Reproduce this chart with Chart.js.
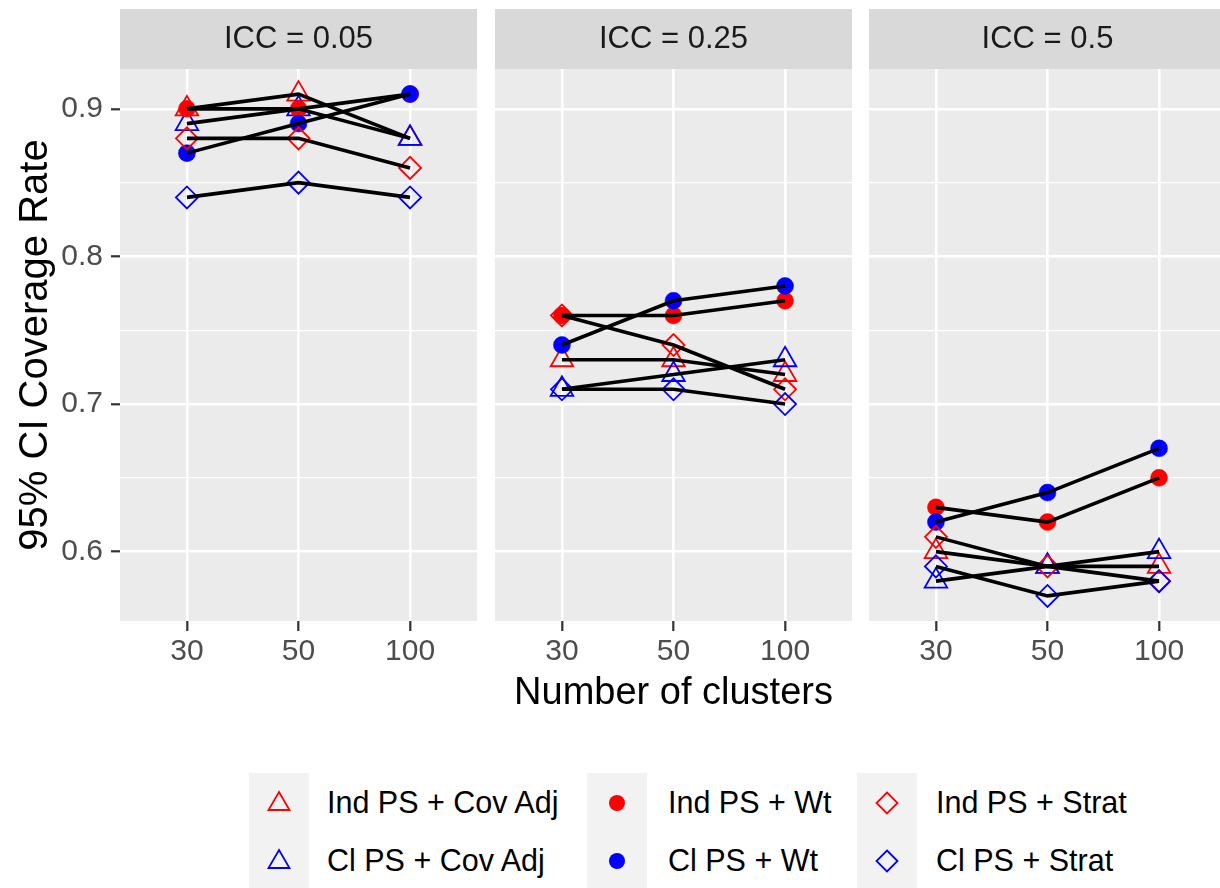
<!DOCTYPE html>
<html>
<head>
<meta charset="utf-8">
<script src="https://cdn.jsdelivr.net/npm/chart.js@4.4.1/dist/chart.umd.min.js"></script>
<style>
html,body{margin:0;padding:0;background:#ffffff;width:1220px;height:888px;overflow:hidden;font-family:"Liberation Sans",Arial,sans-serif;}
canvas{position:absolute;}
.key{position:absolute;width:60px;height:58px;background:#F2F2F2;}
.key svg{position:absolute;left:13px;top:13px;}
.lab{position:absolute;height:58px;line-height:58px;font-size:30.5px;color:#000;white-space:nowrap;}
</style>
</head>
<body>
<canvas id="c0" width="477" height="662" style="left:0px;top:9px"></canvas>
<canvas id="c1" width="357" height="712" style="left:495px;top:9px"></canvas>
<canvas id="c2" width="357" height="662" style="left:869px;top:9px"></canvas>
<div id="legend"></div>
<script>
// ---------- data ----------
const categories = ['30', '50', '100'];               // Number of clusters
const iccLabels = ['ICC = 0.05', 'ICC = 0.25', 'ICC = 0.5'];
const yTicks = [0.6, 0.65, 0.7, 0.75, 0.8, 0.85, 0.9];
const methodNames = ['Ind PS + Cov Adj', 'Cl PS + Cov Adj', 'Ind PS + Wt', 'Cl PS + Wt', 'Ind PS + Strat', 'Cl PS + Strat'];
// coverage rate per ICC panel (rows: ICC 0.05, 0.25, 0.5; columns: 30, 50, 100 clusters)
const indCovAdj = [[0.90, 0.91, 0.88], [0.73, 0.73, 0.72], [0.60, 0.59, 0.59]];
const clCovAdj  = [[0.89, 0.90, 0.88], [0.71, 0.72, 0.73], [0.58, 0.59, 0.60]];
const indWt     = [[0.90, 0.90, 0.91], [0.76, 0.76, 0.77], [0.63, 0.62, 0.65]];
const clWt      = [[0.87, 0.89, 0.91], [0.74, 0.77, 0.78], [0.62, 0.64, 0.67]];
const indStrat  = [[0.88, 0.88, 0.86], [0.76, 0.74, 0.71], [0.61, 0.59, 0.58]];
const clStrat   = [[0.84, 0.85, 0.84], [0.71, 0.71, 0.70], [0.59, 0.57, 0.58]];

// ---------- styles ----------
const seriesValues = [indCovAdj, clCovAdj, indWt, clWt, indStrat, clStrat];
const RED = '#FF0000', BLUE = '#0000FF';
const styles = [
  {shape: 'triangle', color: RED,  fill: false, r: 13},
  {shape: 'triangle', color: BLUE, fill: false, r: 13},
  {shape: 'circle',   color: RED,  fill: true,  r: 8.5},
  {shape: 'circle',   color: BLUE, fill: true,  r: 8.5},
  {shape: 'rectRot',  color: RED,  fill: false, r: 11},
  {shape: 'rectRot',  color: BLUE, fill: false, r: 11}
];
const FONT = '"Liberation Sans", Arial, sans-serif';

const panelBg = {
  id: 'panelBg',
  beforeDraw(chart) {
    const {ctx, chartArea: a} = chart;
    ctx.save();
    ctx.fillStyle = '#D9D9D9';
    ctx.fillRect(a.left, 0, a.right - a.left, a.top);
    ctx.fillStyle = '#EBEBEB';
    ctx.fillRect(a.left, a.top, a.right - a.left, a.bottom - a.top);
    ctx.restore();
  }
};

function isMajor(v) { return Math.abs(Math.round(v * 10) - v * 10) < 1e-6; }

function makePanel(canvasId, p) {
  const datasets = [];
  seriesValues.forEach((vals, k) => {
    const pts = vals[p].map((v, i) => ({x: i + 1, y: v}));
    const st = styles[k];
    datasets.push({
      label: methodNames[k],
      data: pts,
      showLine: false,
      pointStyle: st.shape,
      pointRadius: st.r,
      pointBorderColor: st.color,
      pointBackgroundColor: st.fill ? st.color : 'rgba(0,0,0,0)',
      pointBorderWidth: st.fill ? 0.5 : 1.8,
      order: 10 - k
    });
    datasets.push({
      label: methodNames[k] + ' line',
      data: pts,
      borderColor: '#000000',
      borderWidth: 3.6,
      pointRadius: 0,
      fill: false,
      order: 0
    });
  });
  const first = p === 0, middle = p === 1;
  return new Chart(document.getElementById(canvasId), {
    type: 'line',
    data: {datasets},
    plugins: [panelBg],
    options: {
      responsive: false,
      animation: false,
      events: [],
      layout: {padding: 0, autoPadding: false},
      plugins: {
        legend: {display: false},
        tooltip: {enabled: false},
        title: {
          display: true,
          text: iccLabels[p],
          fullSize: false,
          color: '#1A1A1A',
          font: {family: FONT, size: 31, weight: 'normal'},
          padding: {top: 11.4, bottom: 11.4}
        }
      },
      scales: {
        x: {
          type: 'linear',
          min: 0.4, max: 3.6,
          afterBuildTicks: s => { s.ticks = categories.map((c, i) => ({value: i + 1})); },
          afterFit: s => { s.height = middle ? 100 : 50; s.paddingLeft = 0; s.paddingRight = 0; },
          ticks: {
            callback: v => categories[Math.round(v) - 1],
            color: '#4D4D4D',
            font: {family: FONT, size: 30},
            padding: 3,
            maxRotation: 0
          },
          grid: {color: '#FFFFFF', lineWidth: 2.6, tickColor: '#333333', tickLength: 10, tickWidth: 2.2},
          border: {display: false},
          title: {
            display: middle,
            text: 'Number of clusters',
            color: '#000000',
            font: {family: FONT, size: 38},
            padding: {top: 0, bottom: 5}
          }
        },
        y: {
          type: 'linear',
          min: 0.553, max: 0.927,
          afterBuildTicks: s => { s.ticks = yTicks.map(v => ({value: v})); },
          afterFit: s => { s.width = first ? 120 : 0; s.paddingTop = 0; s.paddingBottom = 0; },
          ticks: {
            display: first,
            callback: v => isMajor(v) ? v.toFixed(1) : '',
            color: '#4D4D4D',
            font: {family: FONT, size: 30},
            padding: 8
          },
          grid: {
            color: '#FFFFFF',
            lineWidth: c => isMajor(c.tick.value) ? 2.6 : 1.3,
            drawTicks: first,
            tickColor: c => isMajor(c.tick.value) ? '#333333' : 'rgba(0,0,0,0)',
            tickLength: 9,
            tickWidth: 2.2
          },
          border: {display: false},
          title: {
            display: first,
            text: '95% CI Coverage Rate',
            color: '#000000',
            font: {family: FONT, size: 40},
            padding: {top: 12, bottom: 0}
          }
        }
      }
    }
  });
}

makePanel('c0', 0);
makePanel('c1', 1);
makePanel('c2', 2);

// ---------- legend (column-major, 2 rows) ----------
const keyLefts = [249, 587, 857];
const textLefts = [327, 668, 936];
const rowTops = [773, 831];
function symbolSvg(st) {
  let inner;
  if (st.shape === 'triangle') inner = '<polygon points="17,6 27.5,24 6.5,24" fill="none" stroke="' + st.color + '" stroke-width="1.8"/>';
  else if (st.shape === 'circle') inner = '<circle cx="17" cy="17" r="8" fill="' + st.color + '"/>';
  else inner = '<polygon points="17,6.5 27.5,17 17,27.5 6.5,17" fill="none" stroke="' + st.color + '" stroke-width="1.8"/>';
  return '<svg width="34" height="34" viewBox="0 0 34 34">' + inner + '</svg>';
}
const legend = document.getElementById('legend');
methodNames.forEach((name, k) => {
  const col = Math.floor(k / 2), row = k % 2;
  const key = document.createElement('div');
  key.className = 'key';
  key.style.left = keyLefts[col] + 'px';
  key.style.top = rowTops[row] + 'px';
  key.innerHTML = symbolSvg(styles[k]);
  legend.appendChild(key);
  const lab = document.createElement('div');
  lab.className = 'lab';
  lab.style.left = textLefts[col] + 'px';
  lab.style.top = rowTops[row] + 'px';
  lab.textContent = name;
  legend.appendChild(lab);
});
</script>
</body>
</html>
